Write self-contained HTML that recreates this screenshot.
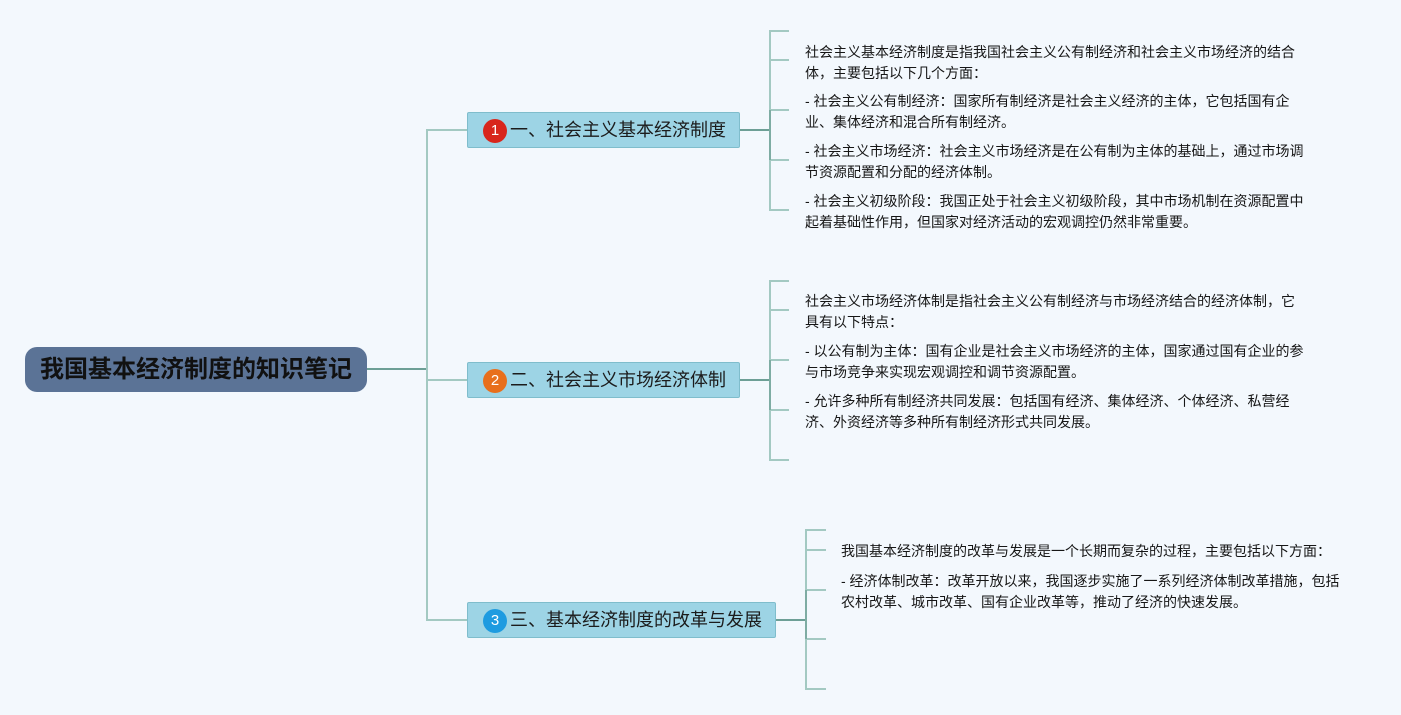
<!DOCTYPE html>
<html>
<head>
<meta charset="utf-8">
<style>
  html,body{margin:0;padding:0;}
  body{width:1401px;height:715px;background:#f3f8fd;position:relative;overflow:hidden;
    font-family:"Liberation Sans","Noto Sans CJK SC",sans-serif;}
  svg{position:absolute;left:0;top:0;}
  .root{position:absolute;left:25px;top:347px;width:342px;height:45px;background:#5b7396;
    border-radius:12px;color:#111;font-weight:bold;font-size:24px;line-height:46px;text-align:center;}
  .node{position:absolute;left:467px;height:36px;background:#9dd4e5;border:1px solid #7fbdcc;
    box-sizing:border-box;border-radius:2px;font-size:18px;color:#1c1c1c;line-height:35px;white-space:nowrap;}
  .badge{position:absolute;left:15px;top:6px;width:24px;height:24px;border-radius:50%;color:#fff;
    font-size:15px;line-height:24px;text-align:center;}
  .node .t{position:absolute;left:42px;top:0;}
  .ln{position:absolute;font-size:14px;line-height:20px;color:#161616;white-space:nowrap;}
</style>
</head>
<body>
<svg width="1401" height="715" viewBox="0 0 1401 715">
  <g fill="none" stroke-width="2">
    <line x1="367" y1="369" x2="427" y2="369" stroke="#6d9f96"/>
    <line x1="427" y1="129" x2="427" y2="621" stroke="#a3c9c2"/>
    <line x1="427" y1="130" x2="467" y2="130" stroke="#a3c9c2"/>
    <line x1="427" y1="380" x2="467" y2="380" stroke="#a3c9c2"/>
    <line x1="427" y1="620" x2="467" y2="620" stroke="#a3c9c2"/>
    <!-- section 1 -->
    <line x1="740" y1="130" x2="770" y2="130" stroke="#6d9f96"/>
    <line x1="770" y1="30" x2="770" y2="211" stroke="#a3c9c2"/>
    <line x1="769" y1="31" x2="789" y2="31" stroke="#a3c9c2"/>
    <line x1="769" y1="60" x2="789" y2="60" stroke="#a3c9c2"/>
    <line x1="769" y1="110" x2="789" y2="110" stroke="#a3c9c2"/>
    <line x1="769" y1="160" x2="789" y2="160" stroke="#a3c9c2"/>
    <line x1="769" y1="210" x2="789" y2="210" stroke="#a3c9c2"/>
    <line x1="770" y1="110" x2="770" y2="160" stroke="#7eaca3"/>
    <!-- section 2 -->
    <line x1="740" y1="380" x2="770" y2="380" stroke="#6d9f96"/>
    <line x1="770" y1="280" x2="770" y2="461" stroke="#a3c9c2"/>
    <line x1="769" y1="281" x2="789" y2="281" stroke="#a3c9c2"/>
    <line x1="769" y1="310" x2="789" y2="310" stroke="#a3c9c2"/>
    <line x1="769" y1="360" x2="789" y2="360" stroke="#a3c9c2"/>
    <line x1="769" y1="410" x2="789" y2="410" stroke="#a3c9c2"/>
    <line x1="769" y1="460" x2="789" y2="460" stroke="#a3c9c2"/>
    <line x1="770" y1="360" x2="770" y2="410" stroke="#7eaca3"/>
    <!-- section 3 -->
    <line x1="776" y1="620" x2="806" y2="620" stroke="#6d9f96"/>
    <line x1="806" y1="530" x2="806" y2="690" stroke="#a3c9c2"/>
    <line x1="805" y1="530" x2="826" y2="530" stroke="#a3c9c2"/>
    <line x1="805" y1="550" x2="826" y2="550" stroke="#a3c9c2"/>
    <line x1="805" y1="590" x2="826" y2="590" stroke="#a3c9c2"/>
    <line x1="805" y1="639" x2="826" y2="639" stroke="#a3c9c2"/>
    <line x1="805" y1="689" x2="826" y2="689" stroke="#a3c9c2"/>
    <line x1="806" y1="590" x2="806" y2="639" stroke="#7eaca3"/>
  </g>
</svg>

<div class="root">我国基本经济制度的知识笔记</div>

<div class="node" style="top:112px;width:273px;">
  <div class="badge" style="background:#d8261c;">1</div>
  <div class="t">一、社会主义基本经济制度</div>
</div>
<div class="node" style="top:362px;width:273px;">
  <div class="badge" style="background:#e86f1c;">2</div>
  <div class="t">二、社会主义市场经济体制</div>
</div>
<div class="node" style="top:602px;width:309px;">
  <div class="badge" style="background:#1e9be0;">3</div>
  <div class="t">三、基本经济制度的改革与发展</div>
</div>

<!-- Section 1 text -->
<div class="ln" style="left:805px;top:42px;">社会主义基本经济制度是指我国社会主义公有制经济和社会主义市场经济的结合</div>
<div class="ln" style="left:805px;top:63px;">体，主要包括以下几个方面：</div>
<div class="ln" style="left:805px;top:91px;">- 社会主义公有制经济：国家所有制经济是社会主义经济的主体，它包括国有企</div>
<div class="ln" style="left:805px;top:112px;">业、集体经济和混合所有制经济。</div>
<div class="ln" style="left:805px;top:141px;">- 社会主义市场经济：社会主义市场经济是在公有制为主体的基础上，通过市场调</div>
<div class="ln" style="left:805px;top:162px;">节资源配置和分配的经济体制。</div>
<div class="ln" style="left:805px;top:191px;">- 社会主义初级阶段：我国正处于社会主义初级阶段，其中市场机制在资源配置中</div>
<div class="ln" style="left:805px;top:212px;">起着基础性作用，但国家对经济活动的宏观调控仍然非常重要。</div>

<!-- Section 2 text -->
<div class="ln" style="left:805px;top:291px;">社会主义市场经济体制是指社会主义公有制经济与市场经济结合的经济体制，它</div>
<div class="ln" style="left:805px;top:312px;">具有以下特点：</div>
<div class="ln" style="left:805px;top:341px;">- 以公有制为主体：国有企业是社会主义市场经济的主体，国家通过国有企业的参</div>
<div class="ln" style="left:805px;top:362px;">与市场竞争来实现宏观调控和调节资源配置。</div>
<div class="ln" style="left:805px;top:391px;">- 允许多种所有制经济共同发展：包括国有经济、集体经济、个体经济、私营经</div>
<div class="ln" style="left:805px;top:412px;">济、外资经济等多种所有制经济形式共同发展。</div>

<!-- Section 3 text -->
<div class="ln" style="left:841px;top:541px;">我国基本经济制度的改革与发展是一个长期而复杂的过程，主要包括以下方面：</div>
<div class="ln" style="left:841px;top:571px;">- 经济体制改革：改革开放以来，我国逐步实施了一系列经济体制改革措施，包括</div>
<div class="ln" style="left:841px;top:592px;">农村改革、城市改革、国有企业改革等，推动了经济的快速发展。</div>
</body>
</html>
